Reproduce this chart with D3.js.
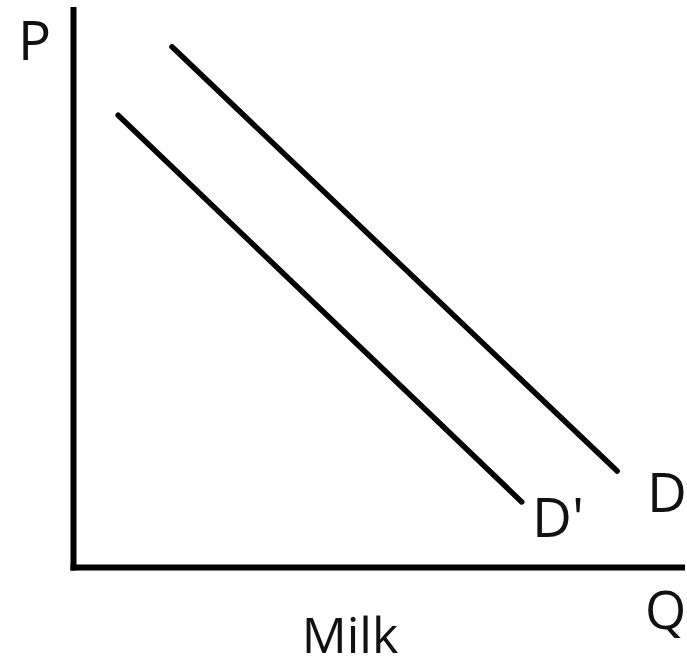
<!DOCTYPE html>
<html><head><meta charset="utf-8">
<script src="https://cdn.jsdelivr.net/npm/d3@7"></script>
<style>html,body{margin:0;padding:0;background:#fff;}svg{display:block;}</style>
</head><body>
<script>
// Demand curves (arbitrary units: quantity 0-100, price 0-100)
const demandD = [{q: 16.1, p: 92.9}, {q: 88.9, p: 17.2}];
const demandDPrime = [{q: 7.3, p: 80.7}, {q: 73.3, p: 11.7}];
const curveLabels = ["D", "D'"];
const axisLabels = {x: "Q", y: "P", title: "Milk"};

const W = 687, H = 668;
const svg = d3.select("body").append("svg").attr("width", W).attr("height", H);
const x = d3.scaleLinear().domain([0, 100]).range([73.5, 685]);
const y = d3.scaleLinear().domain([0, 100]).range([567.5, 7]);

// axes
svg.append("line").attr("x1", x(0)).attr("x2", x(0)).attr("y1", y(100)).attr("y2", y(0) + 3)
  .attr("stroke", "#000").attr("stroke-width", 6);
svg.append("line").attr("x1", x(0) - 3).attr("x2", x(100)).attr("y1", y(0)).attr("y2", y(0))
  .attr("stroke", "#000").attr("stroke-width", 6);

const line = d3.line().x(d => x(d.q)).y(d => y(d.p));
[demandD, demandDPrime].forEach(dat => {
  svg.append("path").attr("d", line(dat)).attr("fill", "none")
    .attr("stroke", "#000").attr("stroke-width", 5.5).attr("stroke-linecap", "round");
});

const font = "'Open Sans', 'Noto Sans', sans-serif";
function txt(s, px, py, size, anchor) {
  svg.append("text").attr("x", px).attr("y", py).attr("font-family", font)
    .attr("font-size", size).attr("fill", "#111").attr("text-anchor", anchor || "start").text(s);
}
txt(axisLabels.y, 18, 60, 55);
txt(curveLabels[0], 647, 512, 55);
txt(curveLabels[1], 532, 537, 55);
txt(axisLabels.x, 645, 629, 53);
txt(axisLabels.title, 350, 653, 50, "middle");
</script>
</body></html>
